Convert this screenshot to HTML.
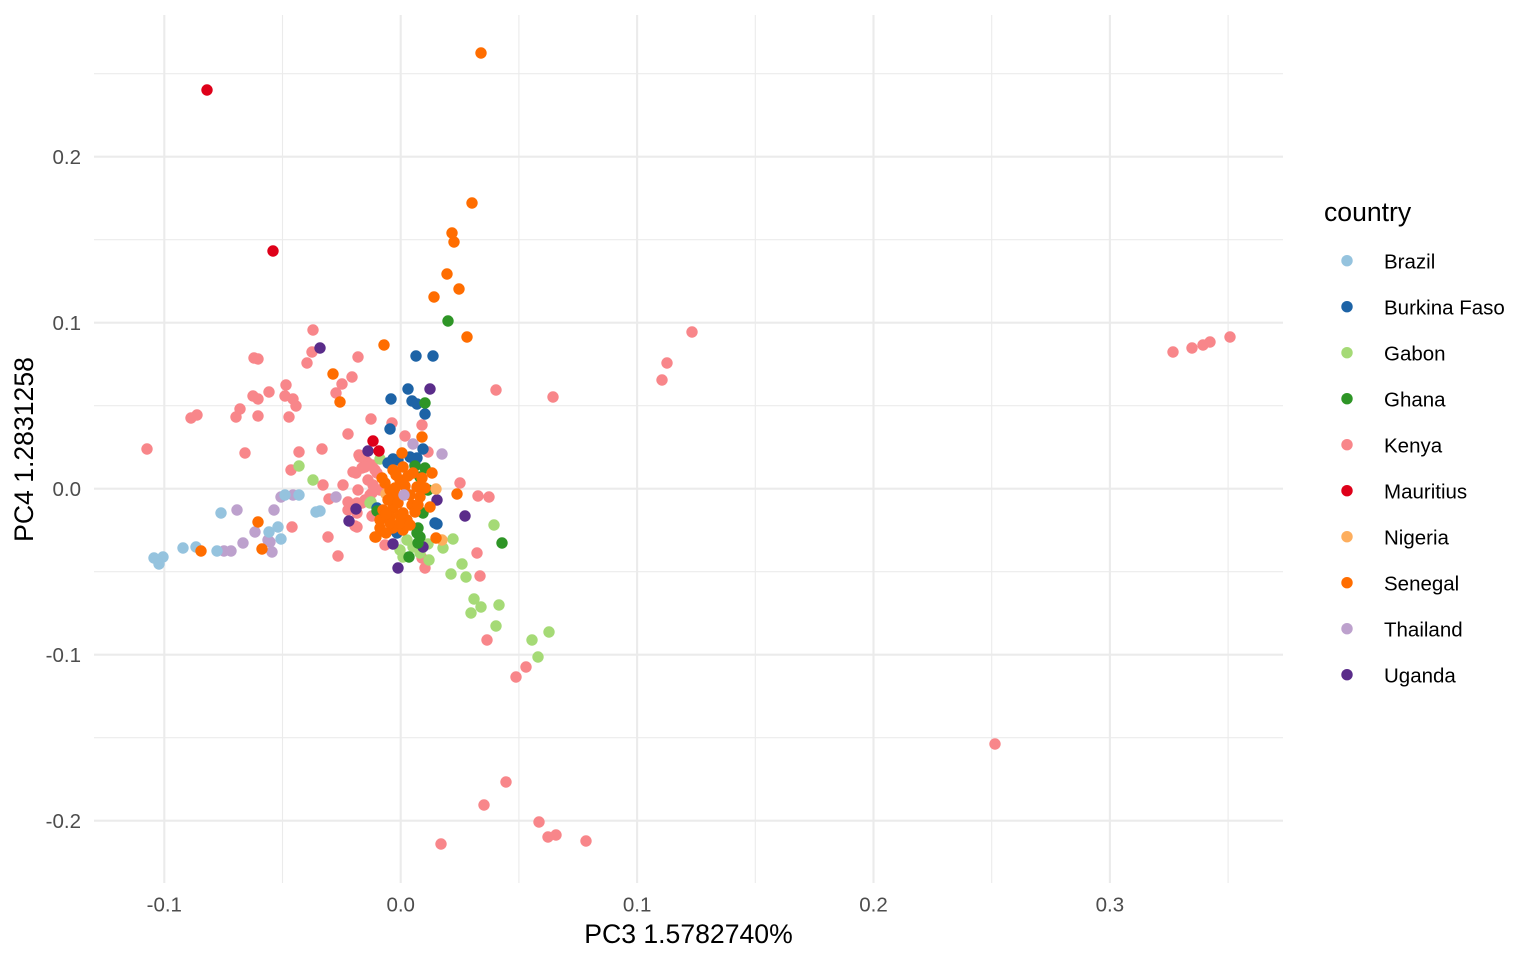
<!DOCTYPE html>
<html><head><meta charset="utf-8"><style>
html,body{margin:0;padding:0;background:#fff;}
svg{display:block;font-family:"Liberation Sans",Arial,sans-serif;}
</style></head><body>
<svg width="1536" height="960" viewBox="0 0 1536 960" xmlns="http://www.w3.org/2000/svg">
<rect width="1536" height="960" fill="#fff"/>
<!-- minor grid -->
<g stroke="#EBEBEB" stroke-width="1.1" fill="none">
<line x1="282.5" y1="15" x2="282.5" y2="883"/>
<line x1="518.9" y1="15" x2="518.9" y2="883"/>
<line x1="755.3" y1="15" x2="755.3" y2="883"/>
<line x1="991.7" y1="15" x2="991.7" y2="883"/>
<line x1="1228.1" y1="15" x2="1228.1" y2="883"/>
<line x1="94" y1="73.7" x2="1283" y2="73.7"/>
<line x1="94" y1="239.7" x2="1283" y2="239.7"/>
<line x1="94" y1="405.7" x2="1283" y2="405.7"/>
<line x1="94" y1="571.7" x2="1283" y2="571.7"/>
<line x1="94" y1="737.7" x2="1283" y2="737.7"/>
</g>
<!-- major grid -->
<g stroke="#EBEBEB" stroke-width="2.1" fill="none">
<line x1="164.3" y1="15" x2="164.3" y2="883"/>
<line x1="400.7" y1="15" x2="400.7" y2="883"/>
<line x1="637.1" y1="15" x2="637.1" y2="883"/>
<line x1="873.5" y1="15" x2="873.5" y2="883"/>
<line x1="1109.9" y1="15" x2="1109.9" y2="883"/>
<line x1="94" y1="156.7" x2="1283" y2="156.7"/>
<line x1="94" y1="322.7" x2="1283" y2="322.7"/>
<line x1="94" y1="488.7" x2="1283" y2="488.7"/>
<line x1="94" y1="654.7" x2="1283" y2="654.7"/>
<line x1="94" y1="820.7" x2="1283" y2="820.7"/>
</g>

<!-- Kenya -->
<g fill="#F8868A">
<circle cx="1173" cy="352" r="5.7"/><circle cx="1192" cy="348" r="5.7"/><circle cx="1203" cy="345" r="5.7"/><circle cx="1210" cy="342" r="5.7"/><circle cx="1230" cy="337" r="5.7"/><circle cx="995" cy="744" r="5.7"/>
<circle cx="692" cy="332" r="5.7"/><circle cx="667" cy="363" r="5.7"/><circle cx="662" cy="380" r="5.7"/><circle cx="553" cy="397" r="5.7"/><circle cx="496" cy="390" r="5.7"/>
<circle cx="506" cy="782" r="5.7"/><circle cx="484" cy="805" r="5.7"/><circle cx="539" cy="822" r="5.7"/><circle cx="548" cy="837" r="5.7"/><circle cx="556" cy="835" r="5.7"/><circle cx="441" cy="844" r="5.7"/><circle cx="586" cy="841" r="5.7"/>
<circle cx="526" cy="667" r="5.7"/><circle cx="516" cy="677" r="5.7"/><circle cx="487" cy="640" r="5.7"/><circle cx="480" cy="576" r="5.7"/><circle cx="477" cy="553" r="5.7"/><circle cx="425" cy="568" r="5.7"/><circle cx="422" cy="558" r="5.7"/>
<circle cx="313" cy="330" r="5.7"/><circle cx="254" cy="358" r="5.7"/><circle cx="258" cy="359" r="5.7"/><circle cx="312" cy="352" r="5.7"/><circle cx="307" cy="363" r="5.7"/>
<circle cx="286" cy="385" r="5.7"/><circle cx="269" cy="392" r="5.7"/><circle cx="253" cy="396" r="5.7"/><circle cx="258" cy="399" r="5.7"/><circle cx="285" cy="396" r="5.7"/><circle cx="293" cy="399" r="5.7"/><circle cx="296" cy="406" r="5.7"/>
<circle cx="197" cy="415" r="5.7"/><circle cx="191" cy="418" r="5.7"/><circle cx="240" cy="409" r="5.7"/><circle cx="236" cy="417" r="5.7"/><circle cx="258" cy="416" r="5.7"/><circle cx="289" cy="417" r="5.7"/>
<circle cx="147" cy="449" r="5.7"/><circle cx="245" cy="453" r="5.7"/><circle cx="299" cy="452" r="5.7"/><circle cx="291" cy="470" r="5.7"/>
<circle cx="358" cy="357" r="5.7"/><circle cx="352" cy="377" r="5.7"/><circle cx="342" cy="384" r="5.7"/><circle cx="336" cy="393" r="5.7"/><circle cx="371" cy="419" r="5.7"/><circle cx="392" cy="423" r="5.7"/><circle cx="422" cy="425" r="5.7"/><circle cx="348" cy="434" r="5.7"/><circle cx="405" cy="436" r="5.7"/><circle cx="322" cy="449" r="5.7"/>
<circle cx="428" cy="452" r="5.7"/><circle cx="359" cy="455" r="5.7"/><circle cx="360" cy="457" r="5.7"/><circle cx="367" cy="462" r="5.7"/><circle cx="372" cy="465" r="5.7"/><circle cx="362" cy="468" r="5.7"/><circle cx="377" cy="473" r="5.7"/><circle cx="353" cy="472" r="5.7"/>
<circle cx="356" cy="473" r="5.7"/><circle cx="365" cy="467" r="5.7"/><circle cx="375" cy="470" r="5.7"/><circle cx="368" cy="480" r="5.7"/><circle cx="358" cy="490" r="5.7"/><circle cx="372" cy="493" r="5.7"/>
<circle cx="460" cy="483" r="5.7"/><circle cx="478" cy="496" r="5.7"/><circle cx="489" cy="497" r="5.7"/>
<circle cx="323" cy="485" r="5.7"/><circle cx="343" cy="485" r="5.7"/><circle cx="373" cy="485" r="5.7"/><circle cx="380" cy="490" r="5.7"/><circle cx="370" cy="495" r="5.7"/><circle cx="365" cy="500" r="5.7"/>
<circle cx="348" cy="502" r="5.7"/><circle cx="357" cy="503" r="5.7"/><circle cx="350" cy="508" r="5.7"/><circle cx="362" cy="503" r="5.7"/><circle cx="348" cy="510" r="5.7"/><circle cx="357" cy="513" r="5.7"/><circle cx="372" cy="516" r="5.7"/>
<circle cx="355" cy="526" r="5.7"/><circle cx="357" cy="527" r="5.7"/><circle cx="329" cy="499" r="5.7"/><circle cx="328" cy="537" r="5.7"/><circle cx="338" cy="556" r="5.7"/><circle cx="292" cy="527" r="5.7"/><circle cx="385" cy="545" r="5.7"/>
</g>

<!-- Gabon -->
<g fill="#A5DA76">
<circle cx="299" cy="466" r="5.7"/><circle cx="313" cy="480" r="5.7"/><circle cx="380" cy="459" r="5.7"/><circle cx="371" cy="502" r="5.7"/><circle cx="370" cy="503" r="5.7"/>
<circle cx="407" cy="540" r="5.7"/><circle cx="413" cy="547" r="5.7"/><circle cx="400" cy="550" r="5.7"/><circle cx="403" cy="557" r="5.7"/><circle cx="420" cy="553" r="5.7"/>
<circle cx="453" cy="539" r="5.7"/><circle cx="443" cy="548" r="5.7"/><circle cx="428" cy="544" r="5.7"/><circle cx="429" cy="560" r="5.7"/>
<circle cx="462" cy="564" r="5.7"/><circle cx="451" cy="574" r="5.7"/><circle cx="466" cy="577" r="5.7"/>
<circle cx="474" cy="599" r="5.7"/><circle cx="481" cy="607" r="5.7"/><circle cx="471" cy="613" r="5.7"/><circle cx="499" cy="605" r="5.7"/><circle cx="496" cy="626" r="5.7"/>
<circle cx="549" cy="632" r="5.7"/><circle cx="532" cy="640" r="5.7"/><circle cx="538" cy="657" r="5.7"/><circle cx="494" cy="525" r="5.7"/>
</g>

<!-- Thailand -->
<g fill="#BDA1CD">
<circle cx="281" cy="497" r="5.7"/><circle cx="293" cy="495" r="5.7"/><circle cx="237" cy="510" r="5.7"/><circle cx="274" cy="510" r="5.7"/><circle cx="255" cy="532" r="5.7"/>
<circle cx="268" cy="540" r="5.7"/><circle cx="270" cy="542" r="5.7"/><circle cx="243" cy="543" r="5.7"/><circle cx="224" cy="551" r="5.7"/><circle cx="231" cy="551" r="5.7"/><circle cx="272" cy="552" r="5.7"/>
<circle cx="336" cy="497" r="5.7"/><circle cx="413" cy="444" r="5.7"/><circle cx="442" cy="454" r="5.7"/>
</g>

<!-- Brazil -->
<g fill="#95C3DE">
<circle cx="299" cy="495" r="5.7"/><circle cx="285" cy="495" r="5.7"/><circle cx="316" cy="512" r="5.7"/><circle cx="320" cy="511" r="5.7"/><circle cx="221" cy="513" r="5.7"/>
<circle cx="278" cy="527" r="5.7"/><circle cx="269" cy="532" r="5.7"/><circle cx="281" cy="539" r="5.7"/>
<circle cx="183" cy="548" r="5.7"/><circle cx="196" cy="547" r="5.7"/><circle cx="217" cy="551" r="5.7"/>
<circle cx="154" cy="558" r="5.7"/><circle cx="163" cy="557" r="5.7"/><circle cx="159" cy="564" r="5.7"/>
</g>

<!-- Uganda -->
<g fill="#5A2C8A">
<circle cx="320" cy="348" r="5.7"/><circle cx="430" cy="389" r="5.7"/><circle cx="368" cy="451" r="5.7"/><circle cx="437" cy="500" r="5.7"/>
<circle cx="356" cy="509" r="5.7"/><circle cx="349" cy="521" r="5.7"/><circle cx="465" cy="516" r="5.7"/><circle cx="393" cy="544" r="5.7"/><circle cx="398" cy="568" r="5.7"/><circle cx="423" cy="547" r="5.7"/>
</g>

<!-- Burkina Faso -->
<g fill="#1D63A6">
<circle cx="416" cy="356" r="5.7"/><circle cx="433" cy="356" r="5.7"/><circle cx="391" cy="399" r="5.7"/><circle cx="408" cy="389" r="5.7"/><circle cx="412" cy="401" r="5.7"/><circle cx="417" cy="404" r="5.7"/>
<circle cx="425" cy="414" r="5.7"/><circle cx="390" cy="429" r="5.7"/><circle cx="423" cy="449" r="5.7"/><circle cx="393" cy="459" r="5.7"/><circle cx="398" cy="460" r="5.7"/>
<circle cx="417" cy="458" r="5.7"/><circle cx="415" cy="465" r="5.7"/><circle cx="410" cy="457" r="5.7"/><circle cx="388" cy="463" r="5.7"/>
<circle cx="437" cy="524" r="5.7"/><circle cx="377" cy="508" r="5.7"/><circle cx="397" cy="533" r="5.7"/><circle cx="435" cy="523" r="5.7"/>
</g>

<!-- Ghana -->
<g fill="#2E9526">
<circle cx="448" cy="321" r="5.7"/><circle cx="425" cy="403" r="5.7"/><circle cx="415" cy="466" r="5.7"/><circle cx="425" cy="468" r="5.7"/><circle cx="420" cy="477" r="5.7"/>
<circle cx="417" cy="533" r="5.7"/><circle cx="418" cy="543" r="5.7"/><circle cx="409" cy="557" r="5.7"/><circle cx="502" cy="543" r="5.7"/>
<circle cx="377" cy="511" r="5.7"/><circle cx="420" cy="537" r="5.7"/><circle cx="423" cy="513" r="5.7"/><circle cx="418" cy="528" r="5.7"/><circle cx="428" cy="490" r="5.7"/>
</g>

<!-- Nigeria -->
<g fill="#FDAE5E">
<circle cx="442" cy="540" r="5.7"/><circle cx="386" cy="494" r="5.7"/><circle cx="395" cy="521" r="5.7"/><circle cx="436" cy="489" r="5.7"/>
</g>

<!-- Senegal -->
<g fill="#FF6D00">
<circle cx="481" cy="53" r="5.7"/><circle cx="472" cy="203" r="5.7"/><circle cx="452" cy="233" r="5.7"/><circle cx="454" cy="242" r="5.7"/><circle cx="447" cy="274" r="5.7"/>
<circle cx="459" cy="289" r="5.7"/><circle cx="434" cy="297" r="5.7"/><circle cx="467" cy="337" r="5.7"/><circle cx="384" cy="345" r="5.7"/><circle cx="333" cy="374" r="5.7"/>
<circle cx="340" cy="402" r="5.7"/><circle cx="422" cy="437" r="5.7"/><circle cx="402" cy="453" r="5.7"/><circle cx="457" cy="494" r="5.7"/><circle cx="430" cy="507" r="5.7"/>
<circle cx="436" cy="538" r="5.7"/><circle cx="376" cy="537" r="5.7"/><circle cx="258" cy="522" r="5.7"/><circle cx="262" cy="549" r="5.7"/><circle cx="201" cy="551" r="5.7"/>
<circle cx="393" cy="470" r="5.7"/><circle cx="403" cy="467" r="5.7"/><circle cx="413" cy="473" r="5.7"/><circle cx="422" cy="478" r="5.7"/><circle cx="417" cy="487" r="5.7"/>
<circle cx="400" cy="480" r="5.7"/><circle cx="390" cy="490" r="5.7"/><circle cx="410" cy="495" r="5.7"/><circle cx="420" cy="497" r="5.7"/><circle cx="393" cy="508" r="5.7"/>
<circle cx="383" cy="510" r="5.7"/><circle cx="380" cy="520" r="5.7"/><circle cx="390" cy="517" r="5.7"/><circle cx="400" cy="515" r="5.7"/><circle cx="407" cy="520" r="5.7"/>
<circle cx="380" cy="528" r="5.7"/><circle cx="393" cy="528" r="5.7"/><circle cx="403" cy="530" r="5.7"/><circle cx="375" cy="537" r="5.7"/><circle cx="432" cy="473" r="5.7"/>
<circle cx="385" cy="483" r="5.7"/><circle cx="382" cy="478" r="5.7"/><circle cx="390" cy="523" r="5.7"/><circle cx="400" cy="523" r="5.7"/><circle cx="403" cy="513" r="5.7"/>
<circle cx="425" cy="488" r="5.7"/><circle cx="412" cy="505" r="5.7"/><circle cx="396" cy="497" r="5.7"/><circle cx="388" cy="500" r="5.7"/><circle cx="405" cy="486" r="5.7"/><circle cx="415" cy="512" r="5.7"/>
<circle cx="395" cy="488" r="5.7"/><circle cx="408" cy="476" r="5.7"/><circle cx="398" cy="503" r="5.7"/><circle cx="386" cy="514" r="5.7"/><circle cx="410" cy="525" r="5.7"/><circle cx="418" cy="505" r="5.7"/><circle cx="386" cy="533" r="5.7"/><circle cx="396" cy="475" r="5.7"/>
</g>

<!-- Thailand on top -->
<circle cx="404" cy="495" r="5.7" fill="#BDA1CD"/>

<!-- Mauritius -->
<g fill="#DE0019">
<circle cx="207" cy="90" r="5.7"/><circle cx="273" cy="251" r="5.7"/><circle cx="373" cy="441" r="5.7"/><circle cx="379" cy="451" r="5.7"/>
</g>

<!-- y tick labels -->
<g fill="#4D4D4D" font-size="20.5" text-anchor="end">
<text x="81" y="164">0.2</text>
<text x="81" y="330">0.1</text>
<text x="81" y="496">0.0</text>
<text x="81" y="662">-0.1</text>
<text x="81" y="828">-0.2</text>
</g>
<!-- x tick labels -->
<g fill="#4D4D4D" font-size="20.5" text-anchor="middle">
<text x="164.3" y="911.5">-0.1</text>
<text x="400.7" y="911.5">0.0</text>
<text x="637.1" y="911.5">0.1</text>
<text x="873.5" y="911.5">0.2</text>
<text x="1109.9" y="911.5">0.3</text>
</g>
<!-- axis titles -->
<text x="688.5" y="943" font-size="26.6" text-anchor="middle" fill="#000">PC3 1.5782740%</text>
<text transform="translate(33,449.5) rotate(-90)" font-size="26.6" text-anchor="middle" fill="#000">PC4 1.2831258</text>

<!-- legend -->
<text x="1324" y="221" font-size="26.6" fill="#000">country</text>
<g font-size="20.5" fill="#000">
<circle cx="1347" cy="260.7" r="5.7" fill="#95C3DE"/><text x="1384" y="268.3">Brazil</text>
<circle cx="1347" cy="306.7" r="5.7" fill="#1D63A6"/><text x="1384" y="314.3">Burkina Faso</text>
<circle cx="1347" cy="352.7" r="5.7" fill="#A5DA76"/><text x="1384" y="360.3">Gabon</text>
<circle cx="1347" cy="398.7" r="5.7" fill="#2E9526"/><text x="1384" y="406.3">Ghana</text>
<circle cx="1347" cy="444.7" r="5.7" fill="#F8868A"/><text x="1384" y="452.3">Kenya</text>
<circle cx="1347" cy="490.7" r="5.7" fill="#DE0019"/><text x="1384" y="498.3">Mauritius</text>
<circle cx="1347" cy="536.7" r="5.7" fill="#FDAE5E"/><text x="1384" y="544.3">Nigeria</text>
<circle cx="1347" cy="582.7" r="5.7" fill="#FF6D00"/><text x="1384" y="590.3">Senegal</text>
<circle cx="1347" cy="628.7" r="5.7" fill="#BDA1CD"/><text x="1384" y="636.3">Thailand</text>
<circle cx="1347" cy="674.7" r="5.7" fill="#5A2C8A"/><text x="1384" y="682.3">Uganda</text>
</g>
</svg>
</body></html>
